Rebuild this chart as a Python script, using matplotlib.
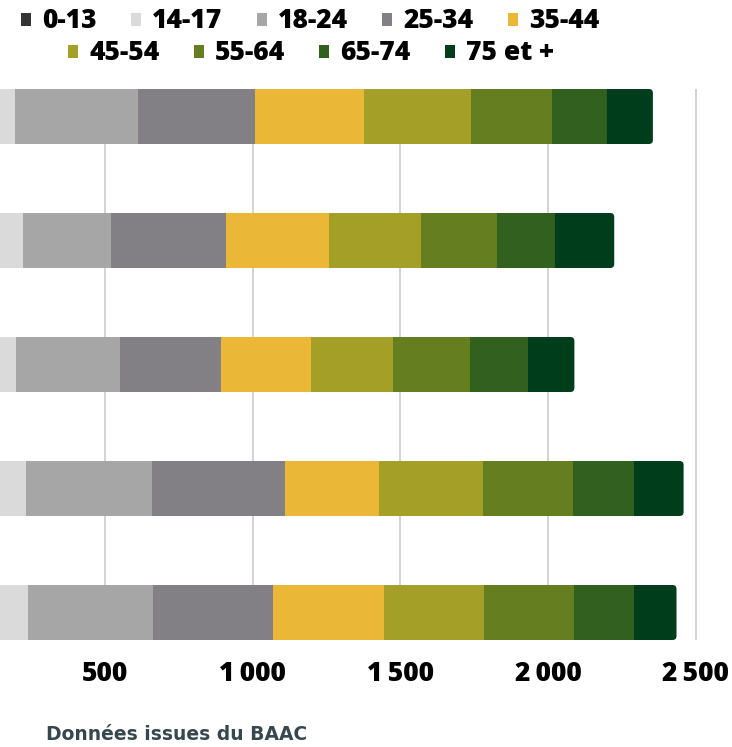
import matplotlib
matplotlib.use("Agg")
import matplotlib.pyplot as plt
from matplotlib.patches import FancyBboxPatch
from matplotlib.ticker import FuncFormatter
import numpy as np

categories = ["2018", "2019", "2020", "2021", "2022"]
age_groups = ["0-13", "14-17", "18-24", "25-34", "35-44",
              "45-54", "55-64", "65-74", "75 et +"]
v_0_13  = [70, 85, 72, 90, 95]
v_14_17 = [124, 136, 125, 141, 143]
v_18_24 = [417, 298, 353, 427, 424]
v_25_34 = [396, 390, 342, 451, 406]
v_35_44 = [369, 349, 305, 318, 376]
v_45_54 = [363, 312, 278, 352, 339]
v_55_64 = [274, 257, 260, 305, 305]
v_65_74 = [186, 196, 197, 207, 203]
v_75p   = [156, 201, 157, 168, 144]
series = [v_0_13, v_14_17, v_18_24, v_25_34, v_35_44,
          v_45_54, v_55_64, v_65_74, v_75p]
colors = ["#333333", "#dadada", "#a6a6a6", "#827f85", "#eab737",
          "#a49f26", "#657e20", "#31601f", "#003d1b"]
xticks = [500, 1000, 1500, 2000, 2500]

W, H = 732, 747
fig = plt.figure(figsize=(W / 100, H / 100), dpi=100)

px_per_unit = 147.6 / 500.0
x0_px = -42.3
xmax = 2520
band_px, barh_px = 124.0, 55.0
bar_h = barh_px / band_px
n = len(categories)
top_px = 89
bot_px = top_px + (n - 1) * band_px + barh_px
ax = fig.add_axes([x0_px / W, (H - bot_px) / H,
                   xmax * px_per_unit / W, (bot_px - top_px) / H])
ax.set_xlim(0, xmax)
ax.set_ylim(n - 1 + bar_h / 2, -bar_h / 2)

y = np.arange(n)
left = np.zeros(n)
handles = []
r_x = 4.0 / px_per_unit
aspect = (4.0 / band_px) / r_x
for i, (vals, col, lab) in enumerate(zip(series, colors, age_groups)):
    vals = np.array(vals, dtype=float)
    if i == len(series) - 1:
        for yi, l, v in zip(y, left, vals):
            p = FancyBboxPatch((l, yi - bar_h / 2), v, bar_h,
                               boxstyle=f"round,pad=0,rounding_size={r_x}",
                               mutation_aspect=aspect, fc=col, ec="none",
                               zorder=3)
            ax.add_patch(p)
        b = ax.barh(y, vals / 2, left=left, height=bar_h, color=col,
                    label=lab, zorder=3, linewidth=0)
    else:
        b = ax.barh(y, vals, left=left, height=bar_h, color=col, label=lab,
                    zorder=3, linewidth=0)
    handles.append(b)
    left = left + vals

ax.set_yticks(y, labels=categories)
ax.tick_params(axis="y", left=False, labelleft=False)

ax.set_xticks(xticks)
ax.xaxis.set_major_formatter(FuncFormatter(
    lambda v, p: f"{int(v):,}".replace(",", "\u2009")))
ax.tick_params(axis="x", length=0, pad=15)
for t in ax.get_xticklabels():
    t.set_family(["Open Sans", "DejaVu Sans"])
    t.set_fontweight("heavy")
    t.set_fontsize(19)
    t.set_color("#000000")
ax.grid(axis="x", color="#d3d3d3", linewidth=1.4, zorder=0)
ax.set_axisbelow(True)
for s in ax.spines.values():
    s.set_visible(False)

leg_font = {"family": ["Open Sans", "DejaVu Sans"], "weight": "heavy", "size": 19}
kw = dict(loc="center", frameon=False, prop=leg_font, handlelength=0.38,
          handleheight=0.38, handletextpad=0.42, columnspacing=1.3,
          borderpad=0, borderaxespad=0)
leg1 = fig.legend(handles[:5], age_groups[:5], ncol=5,
                  bbox_to_anchor=(310 / W, 1 - 21.5 / H), **kw)
leg2 = fig.legend(handles[5:], age_groups[5:], ncol=4,
                  bbox_to_anchor=(311 / W, 1 - 53.5 / H), **kw)

fig.text(307 / W, 1 - 734.5 / H, "Données issues du BAAC", ha="right",
         va="center", family=["DejaVu Sans"], fontweight="bold",
         fontsize=13.5, color="#37474f")

fig.savefig("out.png", dpi=100)
